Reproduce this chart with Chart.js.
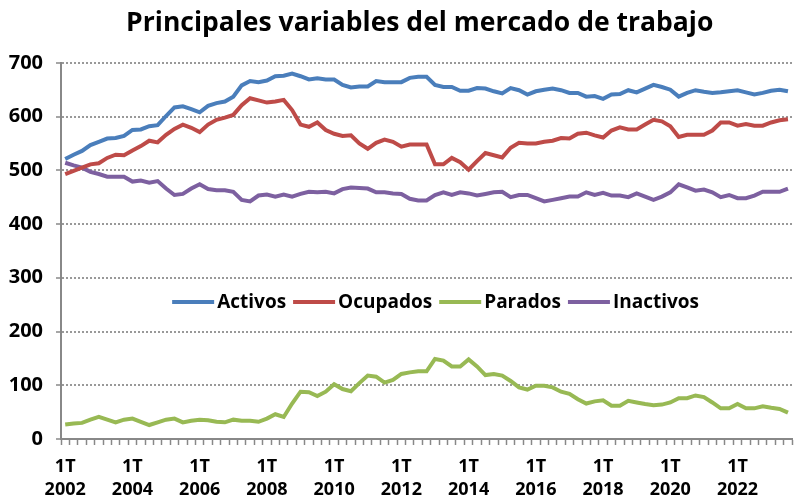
<!DOCTYPE html>
<html lang="es">
<head>
  <meta charset="UTF-8">
  <title>Principales variables del mercado de trabajo</title>
  <style>
    body {
      margin: 0;
      padding: 0;
      background: white;
    }
    .chart-container {
      position: relative;
      width: 798px;
      height: 496px;
    }
  </style>
  <script src="https://cdn.jsdelivr.net/npm/chart.js"></script>
</head>
<body>
  <div class="chart-container">
    <canvas id="mercadoChart"></canvas>
  </div>

  <script>
    // Trimestres 2002 T1 - 2023 T3 (miles de personas)
    const firstYear = 2002;
    const nQuarters = 87;

    const activos = [
      521, 529, 536, 547, 553, 559, 560, 564, 575, 576,
      582, 584, 601, 617, 619, 614, 608, 620, 625, 628,
      637, 658, 666, 664, 667, 675, 676, 680, 675, 669,
      671, 669, 669, 659, 654, 656, 656, 666, 664, 664,
      664, 672, 674, 674, 659, 655, 655, 648, 648, 653,
      652, 647, 643, 653, 649, 641, 647, 650, 652, 649,
      644, 644, 637, 638, 633, 641, 642, 649, 645, 652,
      659, 655, 650, 637, 644, 649, 646, 644, 645, 647,
      649, 645, 641, 644, 648, 650, 647
    ];
    const ocupados = [
      493, 499, 505, 511, 513, 523, 529, 528, 537, 545,
      555, 552, 566, 577, 585, 579, 571, 585, 594, 598,
      603, 621, 634, 630, 626, 628, 631, 612, 585, 581,
      589, 575, 568, 564, 565, 550, 540, 551, 557, 553,
      544, 548, 548, 548, 511, 511, 523, 515, 501, 517,
      532, 528, 524, 542, 551, 550, 550, 553, 555, 560,
      559, 568, 570, 565, 561, 574, 580, 576, 576, 585,
      594, 591, 582, 562, 566, 566, 566, 574, 589, 589,
      583, 586, 583, 583, 589, 593, 595
    ];
    const parados = [
      27, 29, 30, 36, 41, 36, 31, 36, 38, 32,
      26, 31, 36, 38, 31, 34, 36, 35, 32, 31,
      36, 34, 34, 32, 38, 46, 41, 66, 88, 87,
      80, 88, 102, 93, 89, 104, 118, 116, 105, 110,
      121, 124, 126, 126, 149, 146, 135, 135, 148, 135,
      119, 121, 118, 108, 96, 92, 99, 99, 96, 88,
      84, 74, 66, 70, 72, 62, 62, 71, 68, 65,
      63, 64, 68, 76, 76, 81, 78, 68, 57, 57,
      65, 57, 57, 61, 58, 56, 49
    ];
    const inactivos = [
      514, 509, 505, 497, 493, 488, 488, 488, 479, 481,
      477, 480, 466, 454, 456, 466, 474, 465, 463, 463,
      460, 445, 442, 453, 455, 451, 455, 451, 456, 460,
      459, 460, 457, 465, 468, 467, 466, 459, 459, 457,
      456, 447, 444, 444, 454, 459, 454, 459, 457, 453,
      456, 459, 460, 450, 454, 454, 448, 442, 445, 448,
      451, 451, 459, 454, 458, 453, 453, 450, 457, 451,
      445, 451, 459, 474, 468, 462, 464, 459, 450, 454,
      448, 448, 453, 460, 460, 460, 466
    ];

    const seriesNames = ['Activos', 'Ocupados', 'Parados', 'Inactivos'];
    const seriesColors = ['#4A7EBB', '#BE4B48', '#98B954', '#7D60A0'];
    const yTicks = [0, 100, 200, 300, 400, 500, 600, 700];

    // etiqueta "1T / año" solo en el primer trimestre de los años pares
    const labels = [];
    for (let i = 0; i < nQuarters; i++) {
      const year = firstYear + Math.floor(i / 4);
      const q = i % 4 + 1;
      labels.push(q === 1 && year % 2 === 0 ? ['1T', String(year)] : '');
    }

    const font = '"Open Sans", "DejaVu Sans", sans-serif';

    // leyenda dentro del área del gráfico, a la altura de ~255
    const inlineLegend = {
      id: 'inlineLegend',
      afterDraw(chart) {
        const {ctx, chartArea, scales} = chart;
        const y = scales.y.getPixelForValue(255);
        ctx.save();
        ctx.font = 'bold 19px ' + font;
        ctx.textBaseline = 'middle';
        const lineLen = 42, gap = 3, spacing = 7;
        const items = chart.data.datasets.map(ds => ({
          label: ds.label,
          color: ds.borderColor,
          w: ctx.measureText(ds.label).width
        }));
        let total = 0;
        items.forEach(it => total += lineLen + gap + it.w);
        total += spacing * (items.length - 1);
        let x = (chartArea.left + chartArea.right) / 2 + 9 - total / 2;
        items.forEach(it => {
          ctx.strokeStyle = it.color;
          ctx.lineWidth = 4;
          ctx.beginPath();
          ctx.moveTo(x, y);
          ctx.lineTo(x + lineLen, y);
          ctx.stroke();
          ctx.fillStyle = '#000';
          ctx.fillText(it.label, x + lineLen + gap, y + 1);
          x += lineLen + gap + it.w + spacing;
        });
        ctx.restore();
      }
    };

    const ctx = document.getElementById('mercadoChart').getContext('2d');
    const mercadoChart = new Chart(ctx, {
      type: 'line',
      data: {
        labels: labels,
        datasets: [activos, ocupados, parados, inactivos].map((data, i) => ({
          label: seriesNames[i],
          data: data,
          borderColor: seriesColors[i],
          backgroundColor: seriesColors[i],
          borderWidth: 4,
          pointRadius: 0,
          tension: 0,
          fill: false
        }))
      },
      options: {
        responsive: true,
        maintainAspectRatio: false,
        animation: false,
        layout: {
          padding: { left: 0, right: 1, top: 0, bottom: 0 }
        },
        scales: {
          x: {
            offset: true,
            grid: {
              display: true,
              drawOnChartArea: false,
              drawTicks: true,
              tickLength: 6,
              tickColor: '#888',
              tickWidth: 1.5,
              offset: true
            },
            border: { display: true, color: '#888', width: 2 },
            ticks: {
              autoSkip: false,
              maxRotation: 0,
              minRotation: 0,
              padding: 10,
              color: '#000',
              font: { family: font, size: 18, weight: 'bold', lineHeight: 1.3 }
            },
            afterFit: (scale) => { scale.height = 57; }
          },
          y: {
            min: 0,
            max: 700,
            afterBuildTicks: (scale) => { scale.ticks = yTicks.map(v => ({ value: v })); },
            grid: {
              color: '#999',
              lineWidth: 2,
              drawTicks: true,
              tickLength: 5,
              tickColor: '#888',
              tickWidth: 1.5
            },
            border: { display: true, color: '#888', width: 2, dash: [2, 2] },
            ticks: {
              padding: 13,
              color: '#000',
              font: { family: font, size: 20, weight: 'bold' }
            },
            afterFit: (scale) => { scale.width = 61; }
          }
        },
        plugins: {
          legend: { display: false },
          tooltip: { enabled: false },
          title: {
            display: true,
            text: 'Principales variables del mercado de trabajo  ',
            color: '#000',
            fullSize: false,
            padding: { top: 8, bottom: 23 },
            font: { family: font, size: 26.5, weight: 'bold' }
          }
        }
      },
      plugins: [inlineLegend]
    });
  </script>
</body>
</html>
